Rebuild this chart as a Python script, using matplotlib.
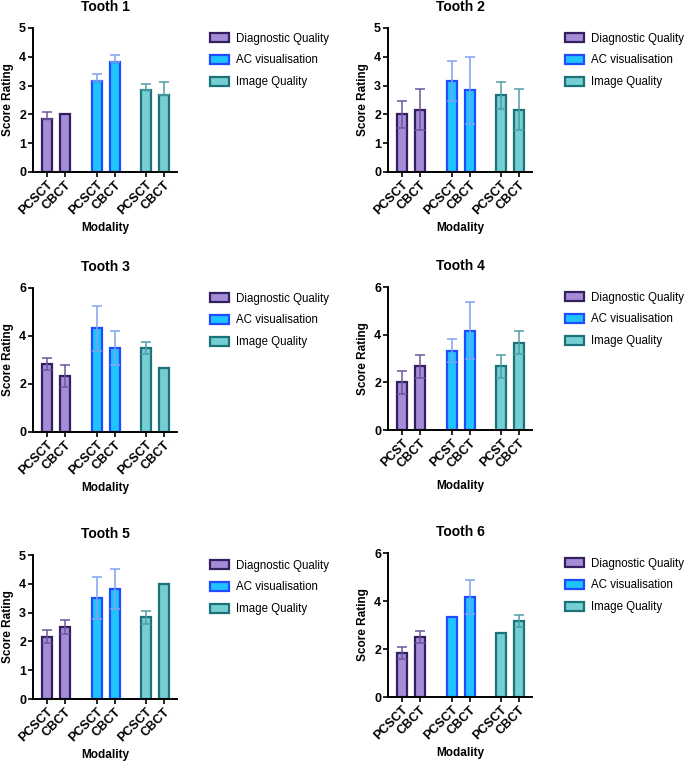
import matplotlib
matplotlib.use('Agg')
import matplotlib.pyplot as plt
from matplotlib.patches import Patch
import numpy as np

plt.rcParams['font.family'] = ['Liberation Sans', 'DejaVu Sans']

# data
metrics = ['Diagnostic Quality', 'AC visualisation', 'Image Quality']
titles = ['Tooth 1', 'Tooth 2', 'Tooth 3', 'Tooth 4', 'Tooth 5', 'Tooth 6']
labels_ct = ['PCSCT', 'CBCT', 'PCSCT', 'CBCT', 'PCSCT', 'CBCT']
labels_st = ['PCST', 'CBCT', 'PCST', 'CBCT', 'PCST', 'CBCT']

tooth1_mean = [1.83, 2.00, 3.17, 3.83, 2.83, 2.67]
tooth1_err = [0.24, 0.0, 0.24, 0.24, 0.24, 0.47]
tooth2_mean = [2.00, 2.17, 3.17, 2.83, 2.67, 2.17]
tooth2_err = [0.47, 0.72, 0.70, 1.18, 0.47, 0.72]
tooth3_mean = [2.83, 2.33, 4.33, 3.50, 3.50, 2.67]
tooth3_err = [0.24, 0.47, 0.94, 0.70, 0.24, 0.0]
tooth4_mean = [2.00, 2.67, 3.33, 4.17, 2.67, 3.67]
tooth4_err = [0.47, 0.47, 0.47, 1.18, 0.47, 0.47]
tooth5_mean = [2.17, 2.50, 3.50, 3.83, 2.83, 4.00]
tooth5_err = [0.24, 0.24, 0.72, 0.70, 0.24, 0.0]
tooth6_mean = [1.83, 2.50, 3.33, 4.17, 2.67, 3.17]
tooth6_err = [0.24, 0.24, 0.0, 0.70, 0.0, 0.24]

means = [tooth1_mean, tooth2_mean, tooth3_mean, tooth4_mean, tooth5_mean, tooth6_mean]
errs = [tooth1_err, tooth2_err, tooth3_err, tooth4_err, tooth5_err, tooth6_err]
xlabels = [labels_ct, labels_ct, labels_ct, labels_st, labels_ct, labels_ct]
two_sided = [False, True, True, True, True, True]
ymax = [5, 5, 6, 6, 5, 6]

fill = ['#a68bd8', '#1fc4ff', '#74ced3']
edge = ['#33205f', '#1f4cff', '#1b7279']
errc = ['#6e56a0', '#7ea2f0', '#4f9ea4']

xpos = [0, 1, 2.75, 3.75, 5.5, 6.5]

# axes boxes in pixels: left, top, bottom
W, H = 685, 763
boxes = [(33, 28, 172), (388, 28, 172),
         (33, 288, 432), (388, 287, 430),
         (33, 555, 699), (388, 553, 697)]

fig = plt.figure(figsize=(W / 100, H / 100), dpi=100)

for i, (left, top, bot) in enumerate(boxes):
    h = bot - top
    ax = fig.add_axes([left / W, 1 - bot / H, 144 / W, h / H])
    m = means[i]
    e = np.array(errs[i])
    lower = e if two_sided[i] else np.zeros_like(e)
    for j in range(6):
        g = j // 2
        ax.bar(xpos[j], m[j], width=0.56, color=fill[g], edgecolor=edge[g],
               linewidth=1.6, zorder=2)
        if e[j] > 0:
            ax.errorbar(xpos[j], m[j], yerr=[[lower[j]], [e[j]]], fmt='none',
                        ecolor=errc[g], elinewidth=1.1, capsize=3.5,
                        capthick=1.1, zorder=3)
    ax.set_xlim(-0.78, 7.22)
    ax.set_ylim(0, ymax[i])
    ax.set_yticks(np.arange(0, ymax[i] + 1, 1 if ymax[i] == 5 else 2))
    ax.set_xticks(xpos)
    ax.set_xticklabels(xlabels[i], rotation=45, ha='right',
                       rotation_mode='anchor', fontweight='bold', fontsize=9)
    for lab in ax.get_yticklabels():
        lab.set_fontweight('bold')
        lab.set_fontsize(9)
    for s in ['top', 'right']:
        ax.spines[s].set_visible(False)
    for s in ['left', 'bottom']:
        ax.spines[s].set_linewidth(1.4)
    ax.tick_params(width=1.2, length=3.5, pad=1.5)
    ax.set_title(titles[i], fontweight='bold', fontsize=10, pad=12)
    ax.set_xlabel('Modality', fontweight='bold', fontsize=8.5, va='center')
    ax.xaxis.set_label_coords(0.5, -56 / h)
    ax.set_ylabel('Score Rating', fontweight='bold', fontsize=8.5, va='center')
    ax.yaxis.set_label_coords(-25 / 144, 0.5)

    handles = [Patch(facecolor=fill[k], edgecolor=edge[k], linewidth=1.6)
               for k in range(3)]
    ax.legend(handles, metrics, loc='upper left', bbox_to_anchor=(1.2, 1.0),
              frameon=False, fontsize=8.3, handlelength=1.6, handleheight=0.8,
              labelspacing=0.85, handletextpad=0.6, borderaxespad=0)

fig.savefig('out.png', dpi=100)
